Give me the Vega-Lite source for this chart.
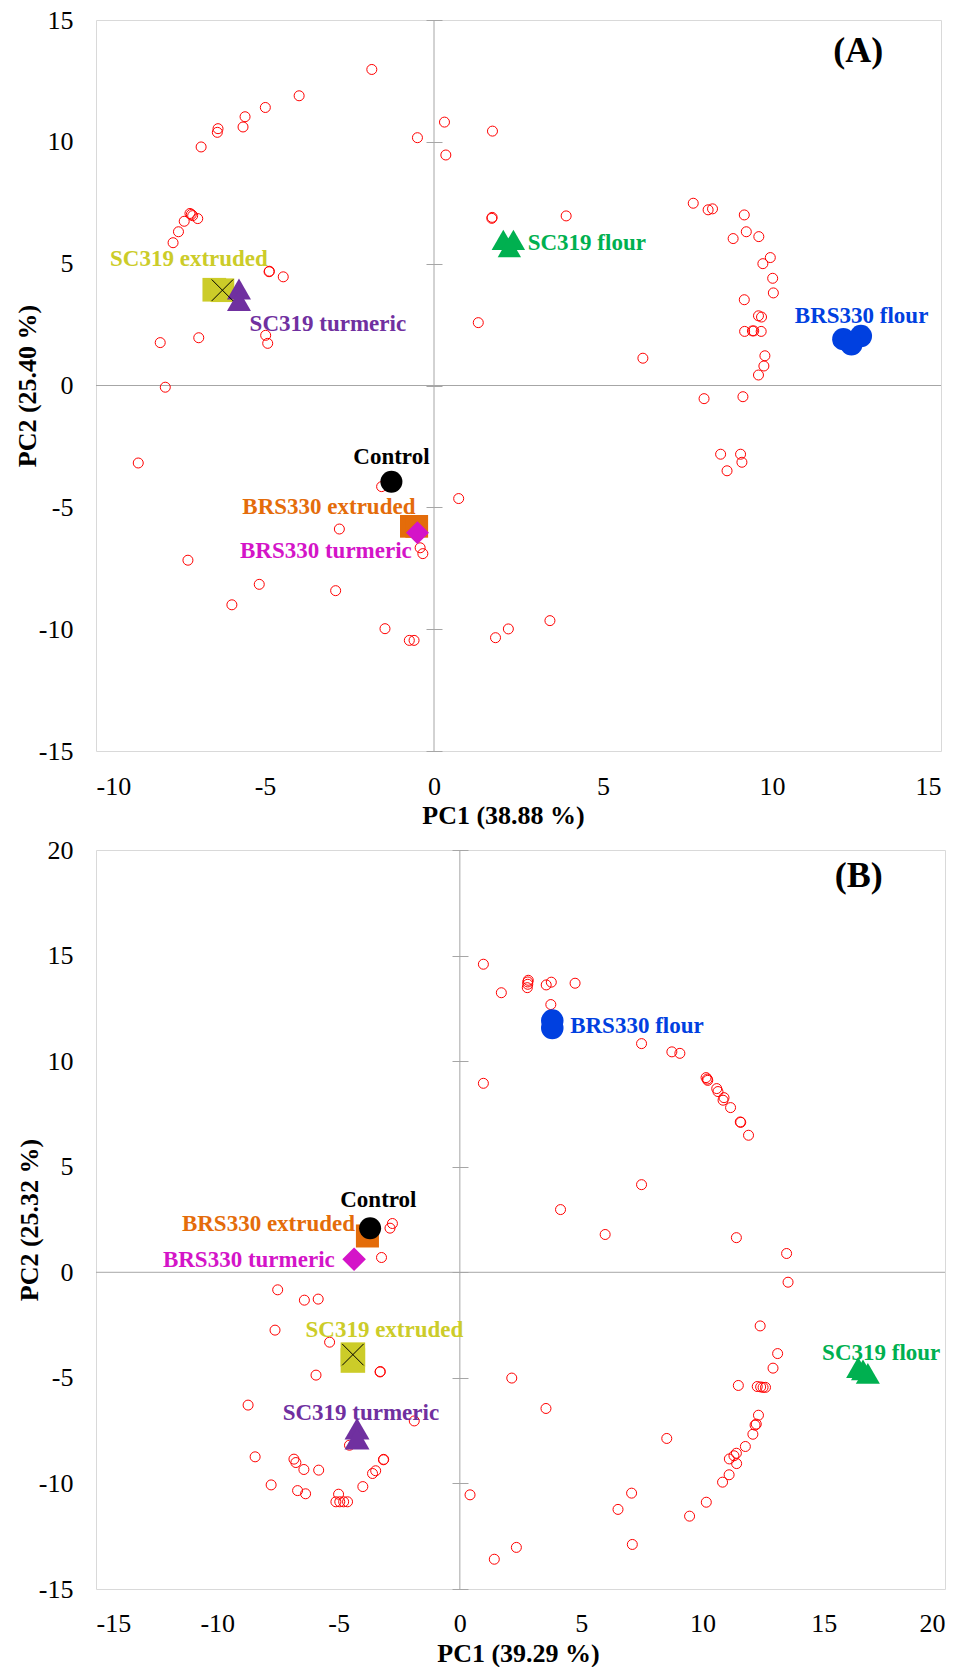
{
  "$schema": "https://vega.github.io/schema/vega-lite/v6.json",
  "background": "white",
  "padding": {"left": 13, "top": 6, "right": 4, "bottom": 0},
  "bounds": "flush",
  "spacing": 99,
  "config": {
    "view": {"stroke": "#d9d9d9", "strokeWidth": 1},
    "axis": {
      "labelFont": "Liberation Serif", "labelFontSize": 26, "labelColor": "#000000",
      "titleFont": "Liberation Serif", "titleFontSize": 26, "titleFontWeight": "bold", "titleColor": "#000000",
      "grid": false, "domain": false
    }
  },
  "resolve": {"scale": {"size": "independent"}},
  "datasets": {
    "ptsA": [
      {"x": -1.84, "y": 12.97}, {"x": -3.99, "y": 11.89}, {"x": -4.99, "y": 11.41}, {"x": -5.59, "y": 11.03},
      {"x": -5.65, "y": 10.61}, {"x": -6.39, "y": 10.54}, {"x": -6.41, "y": 10.39}, {"x": -6.89, "y": 9.79},
      {"x": -0.49, "y": 10.17}, {"x": 0.31, "y": 10.81}, {"x": 0.35, "y": 9.46}, {"x": -7.22, "y": 7.06},
      {"x": -7.18, "y": 7.02}, {"x": -7.14, "y": 6.97}, {"x": -6.99, "y": 6.85}, {"x": -7.39, "y": 6.74},
      {"x": -7.56, "y": 6.31}, {"x": -7.72, "y": 5.86}, {"x": -4.88, "y": 4.67}, {"x": -4.87, "y": 4.69},
      {"x": -4.46, "y": 4.46}, {"x": -8.10, "y": 1.76}, {"x": -6.96, "y": 1.96}, {"x": -4.98, "y": 2.06},
      {"x": -4.92, "y": 1.73}, {"x": -7.95, "y": -0.07}, {"x": 1.31, "y": 2.58}, {"x": 1.73, "y": 10.44},
      {"x": 1.71, "y": 6.86}, {"x": 1.72, "y": 6.90}, {"x": 3.91, "y": 6.96}, {"x": 7.67, "y": 7.48},
      {"x": 8.11, "y": 7.21}, {"x": 8.24, "y": 7.25}, {"x": 9.18, "y": 7.0}, {"x": 9.24, "y": 6.31},
      {"x": 8.85, "y": 6.03}, {"x": 9.61, "y": 6.11}, {"x": 9.95, "y": 5.25}, {"x": 9.73, "y": 5.0},
      {"x": 10.02, "y": 4.40}, {"x": 10.04, "y": 3.80}, {"x": 9.18, "y": 3.52}, {"x": 9.60, "y": 2.86},
      {"x": 9.69, "y": 2.81}, {"x": 9.19, "y": 2.22}, {"x": 9.42, "y": 2.24}, {"x": 9.46, "y": 2.24},
      {"x": 9.68, "y": 2.22}, {"x": 6.18, "y": 1.12}, {"x": 9.79, "y": 1.22}, {"x": 9.76, "y": 0.80},
      {"x": 9.60, "y": 0.43}, {"x": 7.99, "y": -0.54}, {"x": 9.14, "y": -0.46}, {"x": -8.75, "y": -3.18},
      {"x": -1.55, "y": -4.15}, {"x": 0.73, "y": -4.64}, {"x": -2.80, "y": -5.89}, {"x": -0.41, "y": -6.66},
      {"x": -0.33, "y": -6.90}, {"x": -7.28, "y": -7.17}, {"x": -5.17, "y": -8.16}, {"x": -2.91, "y": -8.42},
      {"x": -5.98, "y": -9.0}, {"x": -1.45, "y": -9.98}, {"x": -0.73, "y": -10.46}, {"x": -0.59, "y": -10.46},
      {"x": 8.48, "y": -2.82}, {"x": 9.07, "y": -2.82}, {"x": 8.67, "y": -3.50}, {"x": 9.11, "y": -3.15},
      {"x": 1.82, "y": -10.35}, {"x": 2.20, "y": -9.99}, {"x": 3.43, "y": -9.65}
    ],
    "ptsB": [
      {"x": 0.97, "y": 14.59}, {"x": 0.97, "y": 8.95}, {"x": 1.71, "y": 13.24}, {"x": 2.82, "y": 13.83},
      {"x": 2.80, "y": 13.75}, {"x": 2.80, "y": 13.64}, {"x": 2.78, "y": 13.48}, {"x": 3.56, "y": 13.61},
      {"x": 3.77, "y": 13.74}, {"x": 4.75, "y": 13.69}, {"x": 3.75, "y": 12.68}, {"x": 7.49, "y": 10.83},
      {"x": 8.74, "y": 10.44}, {"x": 9.07, "y": 10.37}, {"x": 10.15, "y": 9.22}, {"x": 10.20, "y": 9.15},
      {"x": 10.22, "y": 9.09}, {"x": 10.59, "y": 8.70}, {"x": 10.64, "y": 8.56}, {"x": 10.89, "y": 8.27},
      {"x": 10.85, "y": 8.15}, {"x": 11.16, "y": 7.80}, {"x": 11.56, "y": 7.12}, {"x": 11.58, "y": 7.10},
      {"x": 11.90, "y": 6.49}, {"x": 7.49, "y": 4.15}, {"x": 4.15, "y": 2.97}, {"x": 5.99, "y": 1.79},
      {"x": 11.40, "y": 1.64}, {"x": 13.47, "y": 0.89}, {"x": 13.53, "y": -0.47}, {"x": 12.38, "y": -2.54},
      {"x": 13.10, "y": -3.85}, {"x": 12.91, "y": -4.54}, {"x": 2.14, "y": -5.01}, {"x": 11.48, "y": -5.36},
      {"x": 12.26, "y": -5.41}, {"x": 12.40, "y": -5.43}, {"x": 12.50, "y": -5.45}, {"x": 12.60, "y": -5.45},
      {"x": 3.55, "y": -6.45}, {"x": 12.31, "y": -6.77}, {"x": 12.22, "y": -7.19}, {"x": 12.17, "y": -7.24},
      {"x": 12.08, "y": -7.67}, {"x": 11.77, "y": -8.25}, {"x": 11.40, "y": -8.57}, {"x": 11.30, "y": -8.69},
      {"x": 11.11, "y": -8.84}, {"x": 11.41, "y": -9.06}, {"x": 11.10, "y": -9.59}, {"x": 10.83, "y": -9.94},
      {"x": 8.53, "y": -7.87}, {"x": 10.16, "y": -10.89}, {"x": 9.47, "y": -11.55}, {"x": 7.08, "y": -10.46},
      {"x": 6.52, "y": -11.23}, {"x": 7.11, "y": -12.89}, {"x": 2.33, "y": -13.03}, {"x": 1.42, "y": -13.59},
      {"x": 0.42, "y": -10.54}, {"x": -2.78, "y": 2.31}, {"x": -2.88, "y": 2.09}, {"x": -3.23, "y": 0.70},
      {"x": -7.51, "y": -0.83}, {"x": -6.41, "y": -1.32}, {"x": -5.84, "y": -1.27}, {"x": -7.62, "y": -2.74},
      {"x": -5.37, "y": -3.31}, {"x": -3.29, "y": -4.72}, {"x": -3.28, "y": -4.70}, {"x": -5.93, "y": -4.87},
      {"x": -8.73, "y": -6.29}, {"x": -1.88, "y": -7.04}, {"x": -4.55, "y": -8.19}, {"x": -8.44, "y": -8.74},
      {"x": -6.84, "y": -8.85}, {"x": -6.76, "y": -9.01}, {"x": -6.43, "y": -9.34}, {"x": -5.82, "y": -9.37},
      {"x": -3.15, "y": -8.88}, {"x": -3.14, "y": -8.86}, {"x": -3.47, "y": -9.40}, {"x": -3.60, "y": -9.53},
      {"x": -7.78, "y": -10.07}, {"x": -4.00, "y": -10.15}, {"x": -6.69, "y": -10.34}, {"x": -6.36, "y": -10.49},
      {"x": -5.00, "y": -10.51}, {"x": -5.11, "y": -10.87}, {"x": -4.95, "y": -10.87}, {"x": -4.79, "y": -10.87},
      {"x": -4.63, "y": -10.87}
    ],
    "smpA": [
      {"sample": "BRS330 extruded", "rep": 1, "x": -0.67, "y": -5.78},
      {"sample": "BRS330 extruded", "rep": 2, "x": -0.51, "y": -5.78},
      {"sample": "BRS330 turmeric", "rep": 1, "x": -0.49, "y": -6.04},
      {"sample": "Control", "rep": 1, "x": -1.26, "y": -3.95},
      {"sample": "SC319 extruded", "rep": 1, "x": -6.50, "y": 3.93},
      {"sample": "SC319 extruded", "rep": 2, "x": -6.26, "y": 3.91},
      {"sample": "SC319 turmeric", "rep": 1, "x": -5.77, "y": 3.96},
      {"sample": "SC319 turmeric", "rep": 2, "x": -5.77, "y": 3.48},
      {"sample": "SC319 flour", "rep": 1, "x": 2.05, "y": 5.98},
      {"sample": "SC319 flour", "rep": 2, "x": 2.35, "y": 5.98},
      {"sample": "SC319 flour", "rep": 3, "x": 2.23, "y": 5.68},
      {"sample": "BRS330 flour", "rep": 1, "x": 12.11, "y": 1.90},
      {"sample": "BRS330 flour", "rep": 2, "x": 12.63, "y": 2.03},
      {"sample": "BRS330 flour", "rep": 3, "x": 12.35, "y": 1.69}
    ],
    "smpB": [
      {"sample": "BRS330 extruded", "rep": 1, "x": -3.81, "y": 1.72},
      {"sample": "Control", "rep": 1, "x": -3.70, "y": 2.09},
      {"sample": "BRS330 turmeric", "rep": 1, "x": -4.36, "y": 0.62},
      {"sample": "SC319 extruded", "rep": 1, "x": -4.41, "y": -4.18},
      {"sample": "SC319 extruded", "rep": 2, "x": -4.41, "y": -3.90},
      {"sample": "SC319 turmeric", "rep": 1, "x": -4.24, "y": -7.41},
      {"sample": "SC319 turmeric", "rep": 2, "x": -4.24, "y": -7.88},
      {"sample": "SC319 flour", "rep": 1, "x": 16.42, "y": -4.51},
      {"sample": "SC319 flour", "rep": 2, "x": 16.62, "y": -4.62},
      {"sample": "SC319 flour", "rep": 3, "x": 16.82, "y": -4.79},
      {"sample": "BRS330 flour", "rep": 1, "x": 3.81, "y": 11.57},
      {"sample": "BRS330 flour", "rep": 2, "x": 3.81, "y": 11.92}
    ],
    "lblA": [
      {"sample": "SC319 extruded", "x": -7.25, "y": 5.2},
      {"sample": "SC319 turmeric", "x": -3.14, "y": 2.54},
      {"sample": "SC319 flour", "x": 4.52, "y": 5.86},
      {"sample": "BRS330 flour", "x": 12.65, "y": 2.85},
      {"sample": "Control", "x": -1.26, "y": -2.93},
      {"sample": "BRS330 extruded", "x": -3.11, "y": -4.99},
      {"sample": "BRS330 turmeric", "x": -3.20, "y": -6.79}
    ],
    "lblB": [
      {"sample": "Control", "x": -3.36, "y": 3.41},
      {"sample": "BRS330 extruded", "x": -7.89, "y": 2.28},
      {"sample": "BRS330 turmeric", "x": -8.70, "y": 0.57},
      {"sample": "SC319 extruded", "x": -3.11, "y": -2.74},
      {"sample": "SC319 turmeric", "x": -4.08, "y": -6.66},
      {"sample": "BRS330 flour", "x": 7.30, "y": 11.67},
      {"sample": "SC319 flour", "x": 17.37, "y": -3.80}
    ]
  },
  "vconcat": [
    {
      "width": 845,
      "height": 731,
      "resolve": {"axis": {"x": "independent", "y": "independent"}},
      "layer": [
        {
          "data": {"values": [{}]},
          "mark": {"type": "rule", "color": "#a6a6a6", "strokeWidth": 1},
          "encoding": {"x": {"datum": 0, "type": "quantitative", "axis": null}}
        },
        {
          "data": {"values": [{}]},
          "mark": {"type": "rule", "color": "#a6a6a6", "strokeWidth": 1},
          "encoding": {"y": {"datum": 0, "type": "quantitative", "axis": {"orient": "left", "offset": -346, "values": [-15, -10, -5, 0, 5, 10, 15], "ticks": true, "tickSize": 16, "tickColor": "#a6a6a6", "tickWidth": 1, "labels": false, "domain": false, "grid": false, "title": null}}}
        },
        {
          "data": {"name": "ptsA"},
          "mark": {"type": "point", "shape": "circle", "filled": false, "color": "#ff0000", "strokeWidth": 1, "size": 100, "opacity": 1},
          "encoding": {
            "x": {"field": "x", "type": "quantitative", "scale": {"domain": [-10, 15], "nice": false, "zero": false},
              "axis": {"orient": "bottom", "values": [-10, -5, 0, 5, 10, 15], "labelExpr": "'' + datum.value", "labelFont": "Liberation Serif", "labelFontSize": 26, "labelColor": "#000000", "ticks": false, "tickSize": 0, "labelPadding": 22, "title": "PC1 (38.88 %)", "titleFont": "Liberation Serif", "titleFontSize": 26, "titleFontWeight": "bold", "titleX": 407, "titleY": 51, "titleBaseline": "top", "titleAlign": "center"}},
            "y": {"field": "y", "type": "quantitative", "scale": {"domain": [-15, 15], "nice": false, "zero": false},
              "axis": {"orient": "left", "values": [-15, -10, -5, 0, 5, 10, 15], "labelExpr": "'' + datum.value", "labelFont": "Liberation Serif", "labelFontSize": 26, "labelColor": "#000000", "ticks": false, "tickSize": 0, "labelPadding": 23, "title": "PC2 (25.40 %)", "titleFont": "Liberation Serif", "titleFontSize": 26, "titleFontWeight": "bold", "titleX": -61, "titleY": 365.5, "titleAngle": -90, "titleBaseline": "alphabetic", "titleAlign": "center"}}
          }
        },
        {
          "data": {"name": "smpA"},
          "mark": {"type": "point", "filled": true, "opacity": 1, "strokeWidth": 0},
          "encoding": {
            "x": {"field": "x", "type": "quantitative", "axis": null},
            "y": {"field": "y", "type": "quantitative", "axis": null},
            "color": {"field": "sample", "type": "nominal", "legend": null, "scale": {"domain": ["Control", "BRS330 flour", "BRS330 extruded", "BRS330 turmeric", "SC319 flour", "SC319 extruded", "SC319 turmeric"], "range": ["#000000", "#0040e0", "#e46c0a", "#d414c8", "#00b050", "#cccc29", "#7030a0"]}},
            "shape": {"field": "sample", "type": "nominal", "legend": null, "scale": {"domain": ["Control", "BRS330 flour", "BRS330 extruded", "BRS330 turmeric", "SC319 flour", "SC319 extruded", "SC319 turmeric"], "range": ["circle", "circle", "square", "diamond", "triangle-up", "square", "triangle-up"]}},
            "size": {"field": "sample", "type": "ordinal", "legend": null, "scale": {"domain": ["Control", "BRS330 flour", "BRS330 extruded", "BRS330 turmeric", "SC319 flour", "SC319 extruded", "SC319 turmeric"], "range": [484, 576, 576, 750, 500, 625, 676]}}
          }
        },
        {
          "data": {"name": "smpA"},
          "transform": [{"filter": "datum.sample == 'SC319 extruded' && datum.rep == 2"}],
          "mark": {"type": "point", "shape": "M-1,-1L1,1M-1,1L1,-1", "filled": false, "color": "#000000", "strokeWidth": 1, "size": 460, "opacity": 1},
          "encoding": {
            "x": {"field": "x", "type": "quantitative", "axis": null},
            "y": {"field": "y", "type": "quantitative", "axis": null}
          }
        },
        {
          "data": {"name": "lblA"},
          "mark": {"type": "text", "font": "Liberation Serif", "fontWeight": "bold", "fontSize": 23, "align": "center", "baseline": "middle"},
          "encoding": {
            "x": {"field": "x", "type": "quantitative", "axis": null},
            "y": {"field": "y", "type": "quantitative", "axis": null},
            "text": {"field": "sample"},
            "color": {"field": "sample", "type": "nominal", "legend": null}
          }
        },
        {
          "data": {"values": [{}]},
          "mark": {"type": "text", "font": "Liberation Serif", "fontWeight": "bold", "fontSize": 36, "align": "center", "baseline": "middle", "color": "#000000"},
          "encoding": {
            "x": {"datum": 12.55, "type": "quantitative", "axis": null},
            "y": {"datum": 13.73, "type": "quantitative", "axis": null},
            "text": {"value": "(A)"}
          }
        }
      ]
    },
    {
      "width": 849,
      "height": 739,
      "resolve": {"axis": {"x": "independent", "y": "independent"}},
      "layer": [
        {
          "data": {"values": [{}]},
          "mark": {"type": "rule", "color": "#a6a6a6", "strokeWidth": 1},
          "encoding": {"x": {"datum": 0, "type": "quantitative", "axis": null}}
        },
        {
          "data": {"values": [{}]},
          "mark": {"type": "rule", "color": "#a6a6a6", "strokeWidth": 1},
          "encoding": {"y": {"datum": 0, "type": "quantitative", "axis": {"orient": "left", "offset": -372, "values": [-15, -10, -5, 0, 5, 10, 15, 20], "ticks": true, "tickSize": 16, "tickColor": "#a6a6a6", "tickWidth": 1, "labels": false, "domain": false, "grid": false, "title": null}}}
        },
        {
          "data": {"name": "ptsB"},
          "mark": {"type": "point", "shape": "circle", "filled": false, "color": "#ff0000", "strokeWidth": 1, "size": 100, "opacity": 1},
          "encoding": {
            "x": {"field": "x", "type": "quantitative", "scale": {"domain": [-15, 20], "nice": false, "zero": false},
              "axis": {"orient": "bottom", "values": [-15, -10, -5, 0, 5, 10, 15, 20], "labelExpr": "'' + datum.value", "labelFont": "Liberation Serif", "labelFontSize": 26, "labelColor": "#000000", "ticks": false, "tickSize": 0, "labelPadding": 21, "title": "PC1 (39.29 %)", "titleFont": "Liberation Serif", "titleFontSize": 26, "titleFontWeight": "bold", "titleX": 422, "titleY": 51, "titleBaseline": "top", "titleAlign": "center"}},
            "y": {"field": "y", "type": "quantitative", "scale": {"domain": [-15, 20], "nice": false, "zero": false},
              "axis": {"orient": "left", "values": [-15, -10, -5, 0, 5, 10, 15, 20], "labelExpr": "'' + datum.value", "labelFont": "Liberation Serif", "labelFontSize": 26, "labelColor": "#000000", "ticks": false, "tickSize": 0, "labelPadding": 23, "title": "PC2 (25.32 %)", "titleFont": "Liberation Serif", "titleFontSize": 26, "titleFontWeight": "bold", "titleX": -59, "titleY": 369.5, "titleAngle": -90, "titleBaseline": "alphabetic", "titleAlign": "center"}}
          }
        },
        {
          "data": {"name": "smpB"},
          "mark": {"type": "point", "filled": true, "opacity": 1, "strokeWidth": 0},
          "encoding": {
            "x": {"field": "x", "type": "quantitative", "axis": null},
            "y": {"field": "y", "type": "quantitative", "axis": null},
            "color": {"field": "sample", "type": "nominal", "legend": null, "scale": {"domain": ["Control", "BRS330 flour", "BRS330 extruded", "BRS330 turmeric", "SC319 flour", "SC319 extruded", "SC319 turmeric"], "range": ["#000000", "#0040e0", "#e46c0a", "#d414c8", "#00b050", "#cccc29", "#7030a0"]}},
            "shape": {"field": "sample", "type": "nominal", "legend": null, "scale": {"domain": ["Control", "BRS330 flour", "BRS330 extruded", "BRS330 turmeric", "SC319 flour", "SC319 extruded", "SC319 turmeric"], "range": ["circle", "circle", "square", "diamond", "triangle-up", "square", "triangle-up"]}},
            "size": {"field": "sample", "type": "ordinal", "legend": null, "scale": {"domain": ["Control", "BRS330 flour", "BRS330 extruded", "BRS330 turmeric", "SC319 flour", "SC319 extruded", "SC319 turmeric"], "range": [484, 625, 529, 600, 550, 576, 484]}}
          }
        },
        {
          "data": {"name": "smpB"},
          "transform": [{"filter": "datum.sample == 'SC319 extruded' && datum.rep == 2"}],
          "mark": {"type": "point", "shape": "M-1,-1L1,1M-1,1L1,-1", "filled": false, "color": "#000000", "strokeWidth": 1, "size": 460, "opacity": 1},
          "encoding": {
            "x": {"field": "x", "type": "quantitative", "axis": null},
            "y": {"field": "y", "type": "quantitative", "axis": null}
          }
        },
        {
          "data": {"name": "lblB"},
          "mark": {"type": "text", "font": "Liberation Serif", "fontWeight": "bold", "fontSize": 23, "align": "center", "baseline": "middle"},
          "encoding": {
            "x": {"field": "x", "type": "quantitative", "axis": null},
            "y": {"field": "y", "type": "quantitative", "axis": null},
            "text": {"field": "sample"},
            "color": {"field": "sample", "type": "nominal", "legend": null}
          }
        },
        {
          "data": {"values": [{}]},
          "mark": {"type": "text", "font": "Liberation Serif", "fontWeight": "bold", "fontSize": 36, "align": "center", "baseline": "middle", "color": "#000000"},
          "encoding": {
            "x": {"datum": 16.44, "type": "quantitative", "axis": null},
            "y": {"datum": 18.75, "type": "quantitative", "axis": null},
            "text": {"value": "(B)"}
          }
        }
      ]
    }
  ]
}
